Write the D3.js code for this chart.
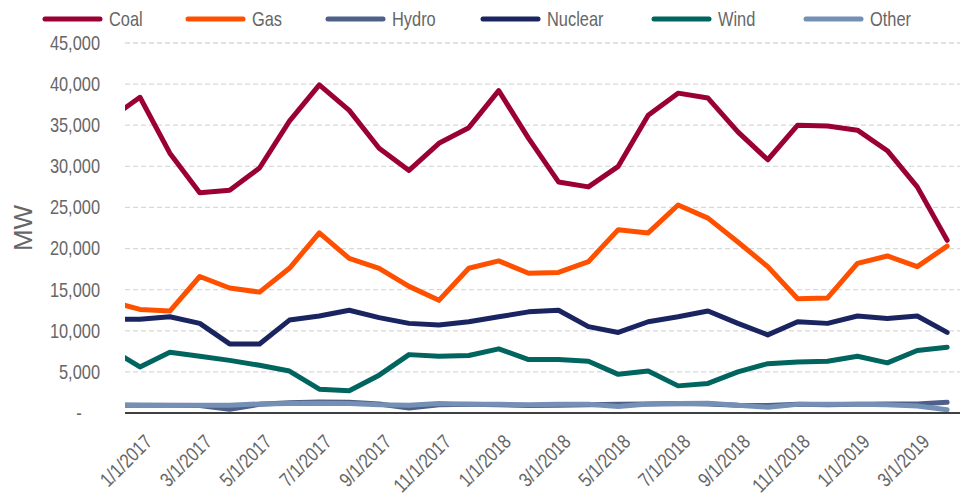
<!DOCTYPE html>
<html lang="en">
<head>
  <meta charset="UTF-8">
  <title>Generation by fuel</title>
  <script src="https://d3js.org/d3.v7.min.js"></script>
  <style>
    body { margin: 0; background: #fff; }
    text { font-family: "Liberation Sans", Arial, sans-serif; fill: #666; }
  </style>
</head>
<body>
  <script>
    // monthly values, first point (12/1/2016) only partly visible at the left edge
    var months = ["12/1/2016",
      "1/1/2017", "2/1/2017", "3/1/2017", "4/1/2017", "5/1/2017", "6/1/2017",
      "7/1/2017", "8/1/2017", "9/1/2017", "10/1/2017", "11/1/2017", "12/1/2017",
      "1/1/2018", "2/1/2018", "3/1/2018", "4/1/2018", "5/1/2018", "6/1/2018",
      "7/1/2018", "8/1/2018", "9/1/2018", "10/1/2018", "11/1/2018", "12/1/2018",
      "1/1/2019", "2/1/2019", "3/1/2019", "4/1/2019"];

    var coal = [35800, 38400, 31600, 26800, 27100, 29800, 35500, 39900, 36800, 32200, 29500, 32800, 34700,
                39200, 33400, 28100, 27500, 30000, 36200, 38900, 38300, 34200, 30800, 35000, 34900,
                34400, 31900, 27500, 21000];
    var gas = [13600, 12600, 12400, 16600, 15200, 14700, 17600, 21900, 18800, 17600, 15400, 13700, 17600,
               18500, 17000, 17100, 18400, 22300, 21900, 25300, 23700, 20800, 17800, 13900, 14000,
               18200, 19100, 17800, 20300];
    var hydro = [950, 950, 950, 900, 450, 1050, 1250, 1350, 1300, 1100, 600, 1000, 1050,
                 1000, 900, 950, 1000, 1050, 1100, 1150, 1100, 950, 900, 1050, 1000,
                 1050, 1100, 1100, 1300];
    var nuclear = [11400, 11400, 11700, 10900, 8400, 8400, 11300, 11800, 12500, 11600, 10900, 10700, 11100,
                   11700, 12300, 12500, 10500, 9800, 11100, 11700, 12400, 10900, 9500, 11100, 10900,
                   11800, 11500, 11800, 9800];
    var wind = [7800, 5600, 7400, 6900, 6400, 5800, 5100, 2900, 2700, 4600, 7100, 6900, 7000,
                7800, 6500, 6500, 6300, 4700, 5100, 3300, 3600, 5000, 6000, 6200, 6300,
                6900, 6100, 7600, 8000];
    var other = [1000, 950, 900, 950, 950, 1100, 1150, 1200, 1150, 1000, 950, 1150, 1050,
                 1050, 1000, 1050, 1050, 800, 1100, 1150, 1200, 950, 700, 1050, 1050,
                 1050, 1000, 850, 400];

    var seriesNames = ["Coal", "Gas", "Hydro", "Nuclear", "Wind", "Other"];
    var seriesValues = [coal, gas, hydro, nuclear, wind, other];
    var colors = ["#9b0034", "#ff5000", "#4e6089", "#1a2460", "#00645f", "#7490b5"];
    var yTicks = [0, 5000, 10000, 15000, 20000, 25000, 30000, 35000, 40000, 45000];

    var w = 960;
    var h = 496;
    var plotLeft = 125, plotRight = 960, plotTop = 43, plotBottom = 413;
    var narrow = "scale(0.82,1)"; // condensed look

    var xScale = d3.scaleLinear()
                   .domain([0.5, 28.43])
                   .range([plotLeft, plotRight]);

    var yScale = d3.scaleLinear()
                   .domain([0, 45000])
                   .range([plotBottom, plotTop]);

    var svg = d3.select("body")
                .append("svg")
                .attr("width", w)
                .attr("height", h);

    svg.append("clipPath")
       .attr("id", "plot")
       .append("rect")
       .attr("x", plotLeft)
       .attr("y", 0)
       .attr("width", plotRight - plotLeft)
       .attr("height", h);

    // gridlines
    svg.append("g")
       .selectAll("line")
       .data(yTicks.filter(function(d) { return d > 0; }))
       .enter()
       .append("line")
       .attr("x1", plotLeft)
       .attr("x2", plotRight)
       .attr("y1", function(d) { return yScale(d); })
       .attr("y2", function(d) { return yScale(d); })
       .attr("stroke", "#d9d9d9")
       .attr("stroke-width", 1.3)
       .attr("stroke-dasharray", "5,3");

    // y axis labels
    var yAxis = d3.axisLeft(yScale)
                  .tickValues(yTicks)
                  .tickSize(0)
                  .tickPadding(0)
                  .tickFormat(function(d) { return d === 0 ? "-\u00a0\u00a0\u00a0\u00a0" : d3.format(",")(d); });

    var gy = svg.append("g")
                .attr("transform", "translate(100,0)")
                .call(yAxis);
    gy.select(".domain").remove();
    gy.selectAll("text")
      .style("font-family", '"Liberation Sans", Arial, sans-serif')
      .style("font-size", "20px")
      .attr("fill", "#666")
      .attr("transform", narrow);

    svg.append("text")
       .attr("transform", "translate(32,228) rotate(-90)")
       .attr("text-anchor", "middle")
       .style("font-size", "26px")
       .text("MW");

    // lines
    var line = d3.line()
                 .x(function(d, i) { return xScale(i); })
                 .y(function(d) { return yScale(d); });

    svg.append("g")
       .attr("clip-path", "url(#plot)")
       .selectAll("path")
       .data(seriesValues)
       .enter()
       .append("path")
       .attr("d", line)
       .attr("fill", "none")
       .attr("stroke", function(d, i) { return colors[i]; })
       .attr("stroke-width", 5)
       .attr("stroke-linejoin", "round")
       .attr("stroke-linecap", "round");

    // x axis
    var xAxis = d3.axisBottom(xScale)
                  .tickValues(d3.range(1, months.length, 2))
                  .tickSize(0)
                  .tickFormat(function(i) { return months[i]; });

    var gx = svg.append("g")
                .attr("transform", "translate(0," + plotBottom + ")")
                .call(xAxis);
    gx.select(".domain")
      .attr("d", "M" + plotLeft + ",0H" + plotRight)
      .attr("stroke", "#000")
      .attr("stroke-width", 1.5);
    gx.selectAll("text")
      .style("font-family", '"Liberation Sans", Arial, sans-serif')
      .style("font-size", "20px")
      .attr("fill", "#666")
      .attr("text-anchor", "end")
      .attr("y", 0)
      .attr("dy", "0")
      .attr("transform", "translate(13,30) rotate(-45) " + narrow);

    // legend
    var legendX = [45, 188, 328, 483, 654, 806];
    var legend = svg.append("g")
                    .selectAll("g")
                    .data(seriesNames)
                    .enter()
                    .append("g")
                    .attr("transform", function(d, i) { return "translate(" + legendX[i] + ",19)"; });

    legend.append("line")
          .attr("x1", 0)
          .attr("x2", 55)
          .attr("stroke", function(d, i) { return colors[i]; })
          .attr("stroke-width", 5)
          .attr("stroke-linecap", "round");

    legend.append("text")
          .attr("transform", "translate(64,7) " + narrow)
          .style("font-size", "20px")
          .text(function(d) { return d; });
  </script>
</body>
</html>
